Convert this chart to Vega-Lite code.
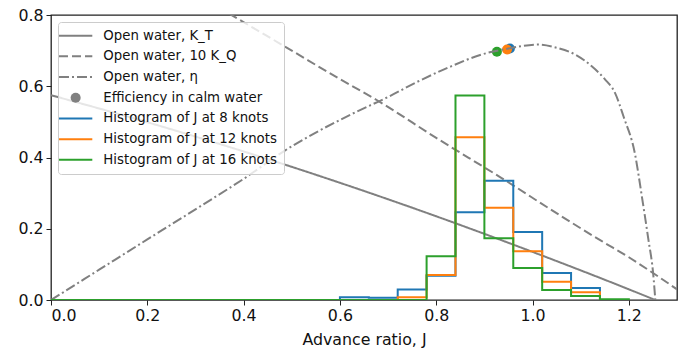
{
  "$schema": "https://vega.github.io/schema/vega-lite/v6.json",
  "width": 626,
  "height": 285,
  "autosize": {"type": "none"},
  "padding": {"left": 51, "top": 15, "right": 3, "bottom": 53},
  "background": "white",
  "config": {
    "view": {"stroke": "#222222", "strokeWidth": 1.3},
    "font": "DejaVu Sans",
    "axis": {
      "domain": false,
      "grid": false,
      "tickColor": "#222222",
      "tickSize": 5,
      "tickWidth": 1,
      "labelFont": "DejaVu Sans",
      "labelFontSize": 15.8,
      "labelColor": "#111111",
      "labelPadding": 3,
      "titleFont": "DejaVu Sans",
      "titleFontSize": 15.8,
      "titleFontWeight": "normal",
      "titleColor": "#111111"
    }
  },
  "datasets": {
    "curves": [
      {"series": "Open water, K_T", "J": 0.0, "v": 0.575},
      {"series": "Open water, K_T", "J": 0.2, "v": 0.499},
      {"series": "Open water, K_T", "J": 0.4, "v": 0.417},
      {"series": "Open water, K_T", "J": 0.6, "v": 0.329},
      {"series": "Open water, K_T", "J": 0.8, "v": 0.235},
      {"series": "Open water, K_T", "J": 1.0, "v": 0.135},
      {"series": "Open water, K_T", "J": 1.2, "v": 0.030},
      {"series": "Open water, K_T", "J": 1.255, "v": 0.0},
      {"series": "Open water, 10 K_Q", "J": 0.3, "v": 0.86},
      {"series": "Open water, 10 K_Q", "J": 0.376, "v": 0.799},
      {"series": "Open water, 10 K_Q", "J": 0.5, "v": 0.70},
      {"series": "Open water, 10 K_Q", "J": 0.6, "v": 0.62},
      {"series": "Open water, 10 K_Q", "J": 0.678, "v": 0.56},
      {"series": "Open water, 10 K_Q", "J": 0.8, "v": 0.455},
      {"series": "Open water, 10 K_Q", "J": 0.935, "v": 0.343},
      {"series": "Open water, 10 K_Q", "J": 1.06, "v": 0.235},
      {"series": "Open water, 10 K_Q", "J": 1.144, "v": 0.165},
      {"series": "Open water, 10 K_Q", "J": 1.2, "v": 0.12},
      {"series": "Open water, 10 K_Q", "J": 1.251, "v": 0.075},
      {"series": "Open water, 10 K_Q", "J": 1.3, "v": 0.03},
      {"series": "Open water, η", "J": 0.0, "v": 0.0},
      {"series": "Open water, η", "J": 0.1, "v": 0.085},
      {"series": "Open water, η", "J": 0.2, "v": 0.17},
      {"series": "Open water, η", "J": 0.31, "v": 0.263},
      {"series": "Open water, η", "J": 0.4, "v": 0.34},
      {"series": "Open water, η", "J": 0.484, "v": 0.418},
      {"series": "Open water, η", "J": 0.623, "v": 0.521},
      {"series": "Open water, η", "J": 0.7, "v": 0.57},
      {"series": "Open water, η", "J": 0.76, "v": 0.612},
      {"series": "Open water, η", "J": 0.831, "v": 0.656},
      {"series": "Open water, η", "J": 0.894, "v": 0.689},
      {"series": "Open water, η", "J": 0.95, "v": 0.706},
      {"series": "Open water, η", "J": 1.012, "v": 0.717},
      {"series": "Open water, η", "J": 1.05, "v": 0.708},
      {"series": "Open water, η", "J": 1.09, "v": 0.688},
      {"series": "Open water, η", "J": 1.123, "v": 0.656},
      {"series": "Open water, η", "J": 1.15, "v": 0.62},
      {"series": "Open water, η", "J": 1.171, "v": 0.582},
      {"series": "Open water, η", "J": 1.189, "v": 0.515},
      {"series": "Open water, η", "J": 1.213, "v": 0.408},
      {"series": "Open water, η", "J": 1.227, "v": 0.291},
      {"series": "Open water, η", "J": 1.24, "v": 0.175},
      {"series": "Open water, η", "J": 1.251, "v": 0.067},
      {"series": "Open water, η", "J": 1.255, "v": 0.0}
    ],
    "hist": [
      {"series": "Histogram of J at 8 knots", "J": 0.0, "v": 0.0},
      {"series": "Histogram of J at 8 knots", "J": 0.6, "v": 0.008},
      {"series": "Histogram of J at 8 knots", "J": 0.66, "v": 0.006},
      {"series": "Histogram of J at 8 knots", "J": 0.72, "v": 0.0295},
      {"series": "Histogram of J at 8 knots", "J": 0.78, "v": 0.068},
      {"series": "Histogram of J at 8 knots", "J": 0.84, "v": 0.246},
      {"series": "Histogram of J at 8 knots", "J": 0.9, "v": 0.335},
      {"series": "Histogram of J at 8 knots", "J": 0.96, "v": 0.191},
      {"series": "Histogram of J at 8 knots", "J": 1.02, "v": 0.076},
      {"series": "Histogram of J at 8 knots", "J": 1.08, "v": 0.034},
      {"series": "Histogram of J at 8 knots", "J": 1.14, "v": 0.0},
      {"series": "Histogram of J at 8 knots", "J": 1.2, "v": 0.0},
      {"series": "Histogram of J at 12 knots", "J": 0.0, "v": 0.0},
      {"series": "Histogram of J at 12 knots", "J": 0.72, "v": 0.008},
      {"series": "Histogram of J at 12 knots", "J": 0.78, "v": 0.070},
      {"series": "Histogram of J at 12 knots", "J": 0.84, "v": 0.457},
      {"series": "Histogram of J at 12 knots", "J": 0.9, "v": 0.259},
      {"series": "Histogram of J at 12 knots", "J": 0.96, "v": 0.137},
      {"series": "Histogram of J at 12 knots", "J": 1.02, "v": 0.051},
      {"series": "Histogram of J at 12 knots", "J": 1.08, "v": 0.022},
      {"series": "Histogram of J at 12 knots", "J": 1.14, "v": 0.0},
      {"series": "Histogram of J at 12 knots", "J": 1.2, "v": 0.0},
      {"series": "Histogram of J at 16 knots", "J": 0.0, "v": 0.0},
      {"series": "Histogram of J at 16 knots", "J": 0.78, "v": 0.123},
      {"series": "Histogram of J at 16 knots", "J": 0.84, "v": 0.574},
      {"series": "Histogram of J at 16 knots", "J": 0.9, "v": 0.173},
      {"series": "Histogram of J at 16 knots", "J": 0.96, "v": 0.090},
      {"series": "Histogram of J at 16 knots", "J": 1.02, "v": 0.028},
      {"series": "Histogram of J at 16 knots", "J": 1.08, "v": 0.011},
      {"series": "Histogram of J at 16 knots", "J": 1.14, "v": 0.002},
      {"series": "Histogram of J at 16 knots", "J": 1.2, "v": 0.0}
    ],
    "eff": [
      {"speed": "8 knots", "J": 0.953, "eta": 0.706},
      {"speed": "12 knots", "J": 0.947, "eta": 0.703},
      {"speed": "16 knots", "J": 0.926, "eta": 0.697}
    ]
  },
  "layer": [
    {
      "data": {"name": "eff"},
      "mark": {"type": "point", "filled": true, "opacity": 1, "size": 100, "shape": "circle", "clip": true},
      "encoding": {
        "x": {"field": "J", "type": "quantitative"},
        "y": {"field": "eta", "type": "quantitative"},
        "fill": {
          "field": "speed", "type": "nominal", "legend": null,
          "scale": {"domain": ["8 knots", "12 knots", "16 knots"], "range": ["#1f77b4", "#ff7f0e", "#2ca02c"]}
        }
      }
    },
    {
      "data": {"name": "curves"},
      "mark": {"type": "line", "strokeWidth": 2, "interpolate": "monotone", "clip": true},
      "encoding": {
        "x": {
          "field": "J", "type": "quantitative",
          "scale": {"domain": [0, 1.3], "nice": false, "zero": false},
          "axis": {"title": "Advance ratio, J", "values": [0, 0.2, 0.4, 0.6, 0.8, 1.0, 1.2], "format": ".1f", "titlePadding": 10}
        },
        "y": {
          "field": "v", "type": "quantitative",
          "scale": {"domain": [0, 0.8], "nice": false},
          "axis": {"title": null, "values": [0, 0.1, 0.2, 0.3, 0.4, 0.5, 0.6, 0.7, 0.8], "format": ".1f"}
        },
        "color": {
          "field": "series", "type": "nominal",
          "scale": {
            "domain": ["Open water, K_T", "Open water, 10 K_Q", "Open water, η", "Efficiency in calm water", "Histogram of J at 8 knots", "Histogram of J at 12 knots", "Histogram of J at 16 knots"],
            "range": ["#808080", "#808080", "#808080", "#808080", "#1f77b4", "#ff7f0e", "#2ca02c"]
          },
          "legend": {
            "title": null,
            "orient": "top-left",
            "offset": 7,
            "padding": 7,
            "cornerRadius": 3,
            "strokeColor": "#cccccc",
            "fillColor": "rgba(255,255,255,0.8)",
            "labelFont": "DejaVu Sans",
            "labelFontSize": 13.3,
            "labelColor": "#111111",
            "labelOffset": 21,
            "labelLimit": 300,
            "rowPadding": 6.7,
            "symbolSize": 1110,
            "symbolOffset": 4,
            "symbolStrokeWidth": 2,
            "symbolType": "stroke",
            "encode": {
              "symbols": {
                "update": {
                  "shape": {"signal": "datum.value === 'Efficiency in calm water' ? 'circle' : 'stroke'"},
                  "size": {"signal": "datum.value === 'Efficiency in calm water' ? 100 : 1110"},
                  "fill": {"signal": "datum.value === 'Efficiency in calm water' ? '#808080' : 'transparent'"},
                  "strokeWidth": {"signal": "datum.value === 'Efficiency in calm water' ? 0 : 2"}
                }
              }
            }
          }
        },
        "strokeDash": {
          "field": "series", "type": "nominal",
          "scale": {
            "domain": ["Open water, K_T", "Open water, 10 K_Q", "Open water, η", "Efficiency in calm water", "Histogram of J at 8 knots", "Histogram of J at 12 knots", "Histogram of J at 16 knots"],
            "range": [[1, 0], [9, 4], [10, 3, 2, 3], [1, 0], [1, 0], [1, 0], [1, 0]]
          },
          "legend": {"title": null}
        }
      }
    },
    {
      "data": {"name": "hist"},
      "mark": {"type": "line", "strokeWidth": 2, "interpolate": "step-after", "clip": true},
      "encoding": {
        "x": {"field": "J", "type": "quantitative"},
        "y": {"field": "v", "type": "quantitative"},
        "color": {"field": "series", "type": "nominal"}
      }
    }
  ]
}
